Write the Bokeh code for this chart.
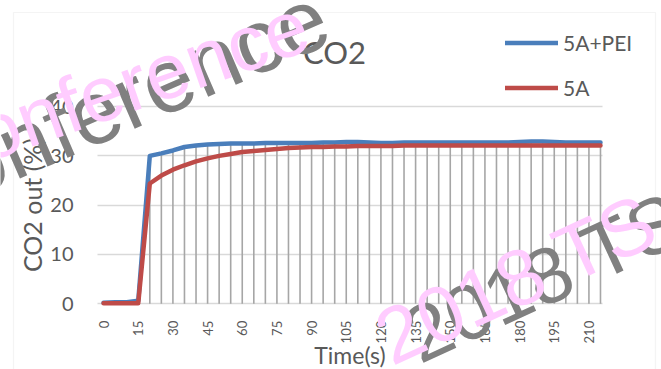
import math

from bokeh.embed import file_html
from bokeh.models import BoxAnnotation, FixedTicker, Label, Legend, LegendItem, Range1d
from bokeh.plotting import figure
from bokeh.resources import INLINE

# Sampling times (s) and CO2 outlet concentration (%) for both adsorbents
times = list(range(0, 220, 5))
co2_5a_pei = [
    0.2, 0.3, 0.3, 0.6, 30.0, 30.5, 31.1, 31.8, 32.1, 32.3,
    32.4, 32.5, 32.5, 32.5, 32.6, 32.6, 32.6, 32.6, 32.6, 32.7,
    32.7, 32.8, 32.8, 32.7, 32.6, 32.6, 32.7, 32.7, 32.7, 32.7,
    32.7, 32.7, 32.7, 32.7, 32.7, 32.7, 32.8, 32.9, 32.9, 32.8,
    32.7, 32.7, 32.7, 32.7,
]
co2_5a = [
    0.1, 0.1, 0.1, 0.1, 24.4, 26.0, 27.2, 28.1, 28.9, 29.5,
    30.0, 30.4, 30.8, 31.0, 31.2, 31.4, 31.6, 31.7, 31.8, 31.8,
    31.9, 31.9, 32.0, 32.0, 32.0, 32.0, 32.1, 32.1, 32.1, 32.1,
    32.1, 32.1, 32.1, 32.1, 32.1, 32.1, 32.1, 32.1, 32.1, 32.1,
    32.1, 32.1, 32.1, 32.1,
]
series_names = ["5A+PEI", "5A"]
x_ticks = list(range(0, 211, 15))
y_ticks = [0, 10, 20, 30, 40]

FONT = "Lato"
TEXT = "#595959"
BLUE = "#4A7EBB"
RED = "#BE4B48"

# plot-area extent in data units; the canvas around it holds title, legend, labels
X0, X1 = -2.6, 215.9
Y0, Y1 = -0.4, 40.4

W, H = 661, 369
p = figure(
    width=W, height=H,
    output_backend="svg", toolbar_location=None, title_location=None,
    x_range=Range1d(-44.6, 241.4), y_range=Range1d(-13.33, 61.52),
    min_border_left=0, min_border_right=0, min_border_top=0, min_border_bottom=0,
    background_fill_color="white", border_fill_color="white",
)
p.outline_line_color = None

# drop lines from the upper curve down to the axis
tops = [max(a, b) for a, b in zip(co2_5a_pei, co2_5a)]
p.segment(x0=times, y0=[0] * len(times), x1=times, y1=tops,
          line_color="#A6A6A6", line_width=1.6)

r_pei = p.line(times, co2_5a_pei, line_color=BLUE, line_width=4.5,
               line_join="round", line_cap="round")
r_5a = p.line(times, co2_5a, line_color=RED, line_width=4.5,
              line_join="round", line_cap="round")

# grid
p.xgrid.grid_line_color = None
p.ygrid.ticker = FixedTicker(ticks=y_ticks)
p.ygrid.grid_line_color = "#D9D9D9"
p.ygrid.grid_line_width = 1.5
try:
    p.ygrid.cross_bounds = (X0, X1)
except AttributeError:
    pass

# axes, pinned to the edges of the plot area
for ax in (p.xaxis[0], p.yaxis[0]):
    ax.axis_line_color = None
    ax.major_tick_line_color = None
    ax.minor_tick_line_color = None
    ax.major_tick_out = 0
    ax.major_tick_in = 0
    ax.minor_tick_out = 0
    ax.minor_tick_in = 0
    ax.major_label_text_font = FONT
    ax.major_label_text_color = TEXT
    ax.axis_label_text_font = FONT
    ax.axis_label_text_color = TEXT
    ax.axis_label_text_font_style = "normal"

p.xaxis.fixed_location = 0
p.xaxis.bounds = (X0, X1)
p.xaxis.ticker = FixedTicker(ticks=x_ticks)
p.xaxis.major_label_orientation = math.pi / 2
p.xaxis.major_label_text_font_size = "13px"
p.xaxis.major_label_standoff = 17
p.xaxis.axis_label = "Time(s)"
p.xaxis.axis_label_text_font_size = "23px"
p.xaxis.axis_label_standoff = -5

p.yaxis.fixed_location = X0
p.yaxis.bounds = (Y0, Y1)
p.yaxis.ticker = FixedTicker(ticks=y_ticks)
p.yaxis.major_label_text_font_size = "20px"
p.yaxis.major_label_standoff = 24
p.yaxis.axis_label = "CO2 out (%)"
p.yaxis.axis_label_text_font_size = "25px"
p.yaxis.axis_label_standoff = 0

# chart border
p.add_layout(BoxAnnotation(
    left=13, right=655, top=12, bottom=420,
    left_units="canvas", right_units="canvas",
    top_units="canvas", bottom_units="canvas",
    fill_alpha=0, line_color="#D9D9D9", line_width=1.2,
))

# title
p.add_layout(Label(
    x=334, y=51, x_units="canvas", y_units="canvas", text="CO2",
    text_font=FONT, text_font_size="31px", text_color=TEXT,
    text_align="center", text_baseline="alphabetic",
))

# legend
legend = Legend(
    items=[LegendItem(label=series_names[0], renderers=[r_pei]),
           LegendItem(label=series_names[1], renderers=[r_5a])],
    location=(505, H - 100),
    orientation="vertical",
    glyph_width=53, glyph_height=21, label_height=21,
    label_standoff=5, spacing=20, padding=0, margin=0,
    label_text_font=FONT, label_text_font_size="21px", label_text_color=TEXT,
    border_line_color=None, background_fill_alpha=0,
)
p.add_layout(legend, "center")

# watermark
def stamp(text, x, y, size, deg, color):
    p.add_layout(Label(
        x=x, y=y, x_units="canvas", y_units="canvas",
        text=text, angle=math.radians(deg),
        text_font="Liberation Sans", text_font_size=f"{size}px",
        text_color=color, text_align="left", text_baseline="alphabetic",
    ))

stamp("Conference", -104, 198, 90, 23.5, "#808080")
stamp("Conference", -76, 155, 78, 19.2, "#FFCCFF")
stamp("2018 TS", 408, 339, 79, 24.8, "#808080")
stamp("2018 TS", 380, 341, 79, 24.8, "#FFCCFF")

open("out.html", "w").write(file_html(p, INLINE))
